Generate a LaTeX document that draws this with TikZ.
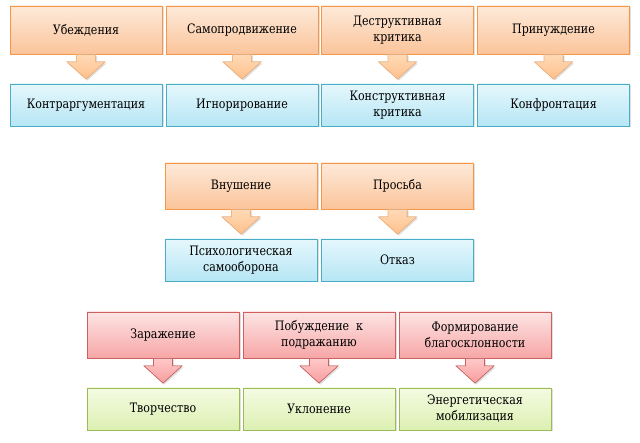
\documentclass[tikz,border=0pt]{standalone}
\usepackage{fontspec}
\setmainfont{DejaVu Serif}[FakeStretch=0.85]
\usepackage{tikz}
\usetikzlibrary{calc, shadows}
\definecolor{orTop}{RGB}{253, 234, 218}
\definecolor{orBot}{RGB}{251, 196, 154}
\definecolor{orLine}{RGB}{247, 150, 70}
\definecolor{blTop}{RGB}{229, 247, 252}
\definecolor{blBot}{RGB}{182, 230, 245}
\definecolor{blLine}{RGB}{75, 172, 198}
\definecolor{rdTop}{RGB}{253, 228, 228}
\definecolor{rdBot}{RGB}{247, 166, 166}
\definecolor{rdLine}{RGB}{204, 96, 94}
\definecolor{grTop}{RGB}{245, 251, 226}
\definecolor{grBot}{RGB}{220, 240, 178}
\definecolor{grLine}{RGB}{155, 187, 89}
\definecolor{orArrT}{RGB}{255, 218, 182}
\definecolor{orArrB}{RGB}{255, 192, 140}
\definecolor{orArrL}{RGB}{246, 178, 120}
\definecolor{rdArrT}{RGB}{255, 200, 200}
\definecolor{rdArrB}{RGB}{248, 158, 158}

% block arrow from one box down to the next
\newcommand{\flowarrow}[3]{%
  \filldraw[#1] ($(#2.south)+(-9.5,0)$) -- ++(0,7.5) -- ++(-9.5,0)
    -- ($(#3.north)+(0,-4.5)$) -- ($(#2.south)+(19,7.5)$) -- ++(-9.5,0)
    -- ($(#2.south)+(9.5,0)$) -- cycle;}

\begin{document}
\begin{tikzpicture}[x=1pt, y=-1pt,
    font=\fontsize{13}{16}\selectfont,
    box/.style={draw, line width=0.8pt, minimum width=152, align=center, inner sep=2pt,
      drop shadow={shadow xshift=1.5pt, shadow yshift=-1.5pt, opacity=0.25}},
    orbox/.style={box, minimum height=48, draw=orLine, top color=orTop, bottom color=orBot},
    orbox2/.style={box, minimum height=46, draw=orLine, top color=orTop, bottom color=orBot},
    blbox/.style={box, minimum height=42, draw=blLine, top color=blTop, bottom color=blBot},
    rdbox/.style={box, minimum height=46, draw=rdLine, top color=rdTop, bottom color=rdBot},
    grbox/.style={box, minimum height=42, draw=grLine, top color=grTop, bottom color=grBot},
    orarrow/.style={draw=orArrL, line width=0.6pt, top color=orArrT, bottom color=orArrB,
      drop shadow={shadow xshift=1.5pt, shadow yshift=-1.5pt, opacity=0.25}},
    rdarrow/.style={draw=rdLine, line width=0.6pt, top color=rdArrT, bottom color=rdArrB,
      drop shadow={shadow xshift=1.5pt, shadow yshift=-1.5pt, opacity=0.25}}]
  \useasboundingbox (0, 0) rectangle (640, 443);

  % first group
  \node[orbox] (ubezhd) at (86, 30) {Убеждения};
  \node[orbox] (samopr) at (242, 30) {Самопродвижение};
  \node[orbox] (destr) at (397.5, 30) {Деструктивная\\критика};
  \node[orbox] (prinuzh) at (553.5, 30) {Принуждение};
  \node[blbox] (kontrarg) at (86, 105) {Контраргументация};
  \node[blbox] (ignor) at (242, 105) {Игнорирование};
  \node[blbox] (konstr) at (397.5, 105) {Конструктивная\\критика};
  \node[blbox] (konfr) at (553.5, 105) {Конфронтация};
  \flowarrow{orarrow}{ubezhd}{kontrarg}
  \flowarrow{orarrow}{samopr}{ignor}
  \flowarrow{orarrow}{destr}{konstr}
  \flowarrow{orarrow}{prinuzh}{konfr}

  % second group
  \node[orbox2] (vnush) at (241, 186) {Внушение};
  \node[orbox2] (prosba) at (397.5, 186) {Просьба};
  \node[blbox] (samoob) at (241, 260) {Психологическая\\самооборона};
  \node[blbox] (otkaz) at (397.5, 260) {Отказ};
  \flowarrow{orarrow}{vnush}{samoob}
  \flowarrow{orarrow}{prosba}{otkaz}

  % third group
  \node[rdbox] (zarazh) at (163, 335) {Заражение};
  \node[rdbox] (pobuzhd) at (319, 335) {Побуждение\ \ к\\подражанию};
  \node[rdbox] (formir) at (475, 335) {Формирование\\благосклонности};
  \node[grbox] (tvorch) at (163, 409) {Творчество};
  \node[grbox] (uklon) at (319, 409) {Уклонение};
  \node[grbox] (energ) at (475, 409) {Энергетическая\\мобилизация};
  \flowarrow{rdarrow}{zarazh}{tvorch}
  \flowarrow{rdarrow}{pobuzhd}{uklon}
  \flowarrow{rdarrow}{formir}{energ}
\end{tikzpicture}
\end{document}
